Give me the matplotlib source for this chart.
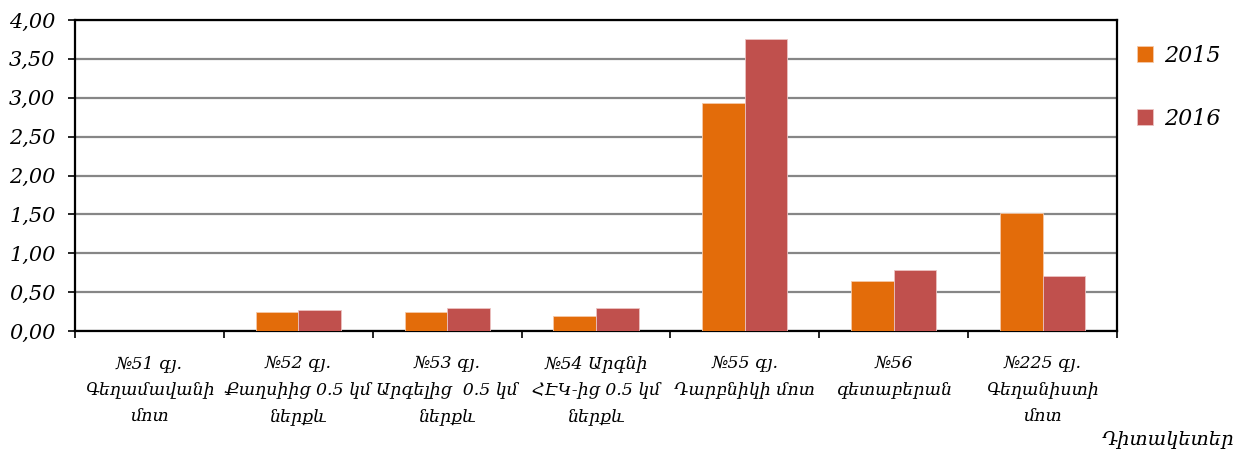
import matplotlib
matplotlib.use("Agg")
import matplotlib.pyplot as plt
import numpy as np

plt.rcParams["font.family"] = ["DejaVu Serif", "DejaVu Sans"]
plt.rcParams["font.style"] = "italic"

stations = [
    "№51 գյ.\nԳեղամավանի\nմոտ",
    "№52 գյ.\nՔաղսիից 0.5 կմ\nներքև",
    "№53 գյ.\nԱրգելից  0.5 կմ\nներքև",
    "№54 Արգնի\nՀԷԿ-ից 0.5 կմ\nներքև",
    "№55 գյ.\nԴարբնիկի մոտ",
    "№56\nգետաբերան",
    "№225 գյ.\nԳեղանիստի\nմոտ",
]
years = ["2015", "2016"]
vals_2015 = [0.0, 0.24, 0.24, 0.19, 2.93, 0.64, 1.52]
vals_2016 = [0.0, 0.27, 0.29, 0.29, 3.76, 0.79, 0.71]
yticks = [0.0, 0.5, 1.0, 1.5, 2.0, 2.5, 3.0, 3.5, 4.0]
colors = ["#E36C0A", "#C0504D"]

fig = plt.figure(figsize=(12.42, 4.55), dpi=100)
ax = fig.add_axes([75 / 1242, 1 - 331 / 455, 1042 / 1242, 311 / 455])

x = np.arange(len(stations))
w = 0.286
ax.bar(x - w / 2, vals_2015, w, color=colors[0], edgecolor="#F5C9A8", linewidth=0.6,
       label=years[0], zorder=3)
ax.bar(x + w / 2, vals_2016, w, color=colors[1], edgecolor="#EBC2C1", linewidth=0.6,
       label=years[1], zorder=3)

ax.set_xlim(-0.5, len(stations) - 0.5)
ax.set_ylim(0, 4)
ax.set_yticks(yticks)
ax.set_yticklabels([f"{v:.2f}".replace(".", ",") for v in yticks], fontsize=15)
ax.yaxis.grid(True, color="#868686", linewidth=1.6, zorder=0)
ax.set_axisbelow(True)

# category ticks sit between groups, labels centred under each group
ax.set_xticks(np.arange(len(stations) + 1) - 0.5)
ax.set_xticklabels([])
ax.set_xticks(x, minor=True)
ax.set_xticklabels(stations, minor=True, fontsize=12.5, linespacing=1.75)
ax.tick_params(axis="x", which="minor", length=0, pad=17)
ax.tick_params(axis="x", which="major", length=5, width=1.2, direction="out")
ax.tick_params(axis="y", length=5, width=1.2, direction="out", pad=9)

for s in ax.spines.values():
    s.set_linewidth(1.6)
    s.set_color("black")

ax.legend(loc="upper left", bbox_to_anchor=(1.0, 0.985), frameon=False,
          fontsize=16, handlelength=0.7, handleheight=0.7, handletextpad=0.5,
          labelspacing=1.85)

fig.text(1234 / 1242, 1 - 440 / 455, "Դիտակետեր", fontsize=14, ha="right", va="center")

fig.savefig("out.png", dpi=100)
